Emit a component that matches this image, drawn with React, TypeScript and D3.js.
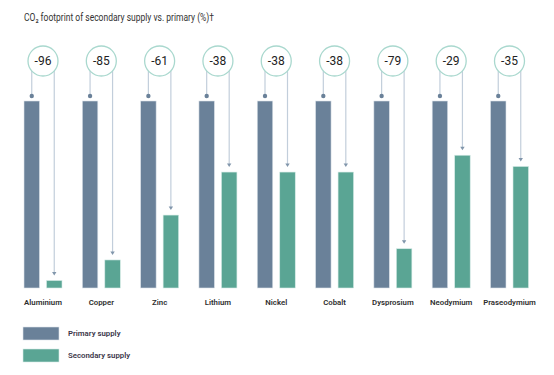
import React from "react";
import * as d3 from "d3";

const categories = ["Aluminium", "Copper", "Zinc", "Lithium", "Nickel", "Cobalt", "Dysprosium", "Neodymium", "Praseodymium"];
const primaryValues = [100, 100, 100, 100, 100, 100, 100, 100, 100];
const secondaryValues = [4, 15, 39, 62, 62, 62, 21, 71, 65];
const changeLabels = ["-96", "-85", "-61", "-38", "-38", "-38", "-79", "-29", "-35"];
const seriesNames = ["Primary supply", "Secondary supply"];
const title = "CO₂ footprint of secondary supply vs. primary (%)†";

const W = 554;
const H = 375;
const primaryColor = "#6a8199";
const secondaryColor = "#5aa594";
const lineColor = "#c2cedb";
const circleColor = "#a9d8ce";
const font = "Roboto, 'Noto Sans', sans-serif";

export default function App() {
  const x = d3.scalePoint<string>().domain(categories).range([43, 509.5]);
  const inner = d3.scaleBand<string>().domain(["p", "s"]).range([-19, 19]).paddingInner(0.311);
  const y = d3.scaleLinear().domain([0, 100]).range([288, 101]);
  const bw = inner.bandwidth();
  const cy = 61;
  const r = 15;

  return (
    <svg width={W} height={H} style={{ position: "absolute", left: 0, top: 0, background: "#fff" }}>
      <text x={24} y={21} fontFamily={font} fontSize={10.2} fill="#333" textLength={190} lengthAdjust="spacingAndGlyphs">
        {title}
      </text>
      {categories.map((c, i) => {
        const cx = x(c)!;
        const px = cx + inner("p")!;
        const sx = cx + inner("s")!;
        const pc = px + bw / 2;
        const sc = sx + bw / 2;
        const ly0 = cy + Math.sqrt(r * r - (pc - cx) ** 2);
        const ry0 = cy + Math.sqrt(r * r - (sc - cx) ** 2);
        const pTop = y(primaryValues[i]);
        const sTop = y(secondaryValues[i]);
        const tip = sTop - 5;
        return (
          <g key={c}>
            <line x1={pc} x2={pc} y1={ly0} y2={pTop - 5} stroke={lineColor} strokeWidth={1.2} />
            <circle cx={pc} cy={pTop - 5} r={2.2} fill={primaryColor} />
            <line x1={sc} x2={sc} y1={ry0} y2={tip - 2} stroke={lineColor} strokeWidth={1.2} />
            <path d={`M${sc - 2.2},${tip - 3.5}L${sc + 2.2},${tip - 3.5}L${sc},${tip}Z`} fill="#8196ab" />
            <rect x={px} y={pTop} width={bw} height={y(0) - pTop} fill={primaryColor} stroke="#dde3ea" strokeWidth={0.6} />
            <rect x={sx} y={sTop} width={bw} height={y(0) - sTop} fill={secondaryColor} stroke="#d6ebe6" strokeWidth={0.6} />
            <circle cx={cx} cy={cy} r={r} fill="#fff" stroke={circleColor} strokeWidth={1.3} />
            <text x={cx} y={cy} dy="0.35em" textAnchor="middle" fontFamily={font} fontSize={12} fill="#222">
              {changeLabels[i]}
            </text>
            <text x={cx} y={302} dy="0.35em" textAnchor="middle" fontFamily={font} fontSize={7.8} fontWeight={600} fill="#2e2e2e">
              {c}
            </text>
          </g>
        );
      })}
      {seriesNames.map((s, i) => (
        <g key={s} transform={`translate(23, ${327 + i * 22})`}>
          <rect width={36} height={13} fill={i === 0 ? primaryColor : secondaryColor} stroke={i === 0 ? "#dde3ea" : "#d6ebe6"} strokeWidth={0.6} />
          <text x={45} y={6.5} dy="0.35em" fontFamily={font} fontSize={7.8} fontWeight={600} fill="#3a3548">
            {s}
          </text>
        </g>
      ))}
    </svg>
  );
}
